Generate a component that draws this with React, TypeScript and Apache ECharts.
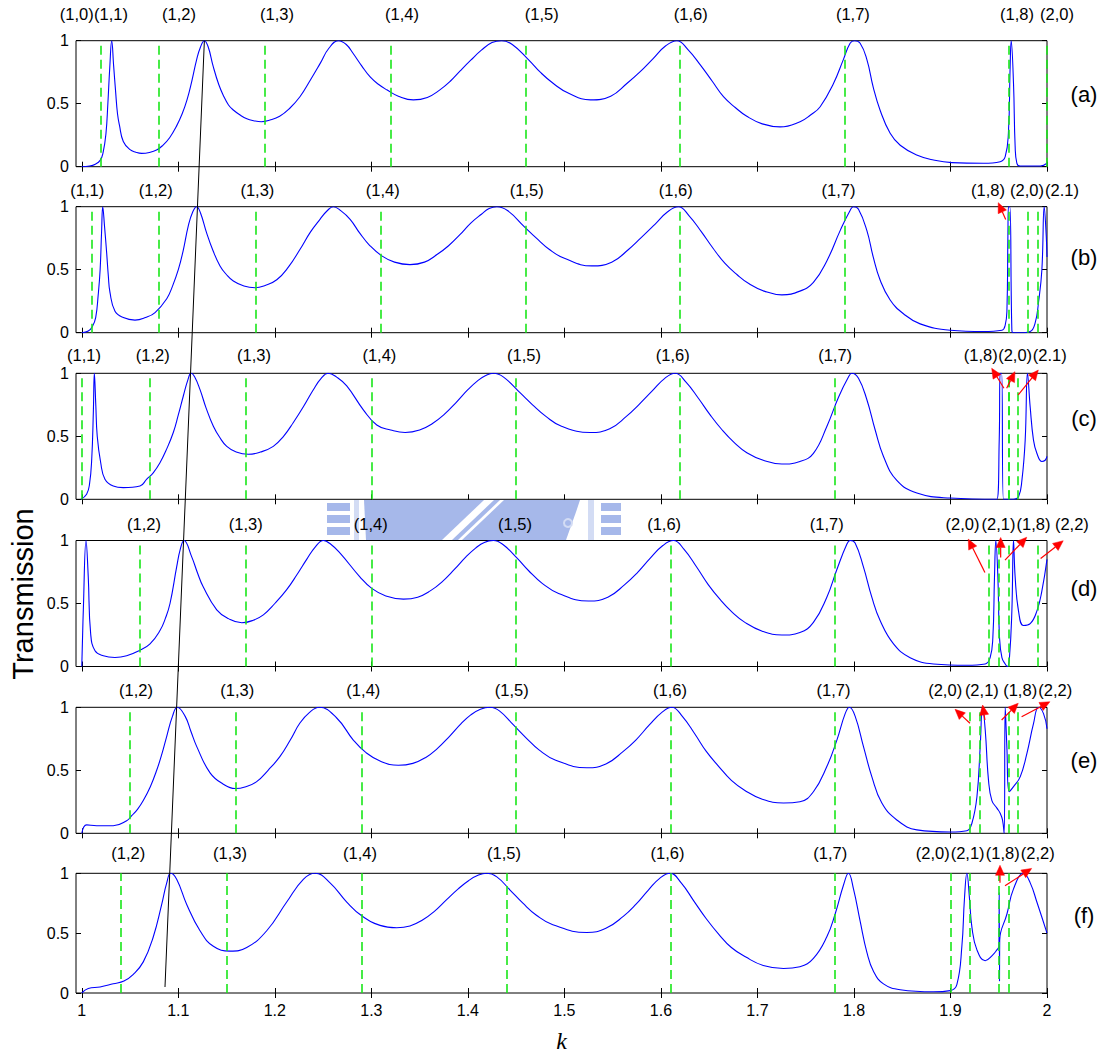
import React, { useEffect, useRef } from 'react';
import * as echarts from 'echarts';

// ---- axis ticks ----
const xTicks = [1, 1.1, 1.2, 1.3, 1.4, 1.5, 1.6, 1.7, 1.8, 1.9, 2];
const xTickLabels = ['1', '1.1', '1.2', '1.3', '1.4', '1.5', '1.6', '1.7', '1.8', '1.9', '2'];
const yTicks = [0, 0.5, 1];
const yTickLabels = ['0', '0.5', '1'];

const panelNames = ['(a)', '(b)', '(c)', '(d)', '(e)', '(f)'];

// ---- transmission curves, [k, T] ----
const curveA: number[][] = [
  [1.0, 0.0], [1.008, 0.005], [1.014, 0.02], [1.019, 0.05], [1.022, 0.11], [1.025, 0.26], [1.027, 0.5], [1.029, 0.79],
  [1.031, 1.0], [1.033, 0.8], [1.035, 0.6], [1.037, 0.42], [1.039, 0.33], [1.043, 0.2], [1.05, 0.135], [1.056, 0.115],
  [1.062, 0.106], [1.07, 0.113], [1.078, 0.135], [1.084, 0.17], [1.091, 0.23], [1.098, 0.32], [1.104, 0.42], [1.109, 0.53],
  [1.114, 0.68], [1.119, 0.85], [1.123, 0.95], [1.127, 1.0], [1.131, 0.95], [1.136, 0.8], [1.142, 0.65], [1.147, 0.56],
  [1.152, 0.49], [1.157, 0.45], [1.164, 0.41], [1.171, 0.38], [1.178, 0.365], [1.186, 0.357], [1.195, 0.37], [1.205, 0.4],
  [1.215, 0.46], [1.226, 0.555], [1.237, 0.69], [1.247, 0.82], [1.256, 0.94], [1.266, 1.0], [1.274, 0.97], [1.281, 0.9],
  [1.29, 0.8], [1.299, 0.71], [1.308, 0.65], [1.316, 0.61], [1.328, 0.56], [1.3435, 0.53], [1.358, 0.55], [1.371, 0.61],
  [1.382, 0.68], [1.392, 0.76], [1.403, 0.845], [1.414, 0.925], [1.425, 0.985], [1.435, 1.0], [1.446, 0.97], [1.4627, 0.85],
  [1.475, 0.75], [1.4886, 0.66], [1.505, 0.58], [1.527, 0.53], [1.548, 0.56], [1.5647, 0.66], [1.578, 0.75], [1.5922, 0.86],
  [1.605, 0.96], [1.6165, 1.0], [1.628, 0.93], [1.6406, 0.81], [1.653, 0.68], [1.6648, 0.556], [1.677, 0.47], [1.689, 0.4],
  [1.705, 0.34], [1.7235, 0.316], [1.7442, 0.357], [1.755, 0.41], [1.765, 0.476], [1.7788, 0.66], [1.789, 0.85], [1.796, 0.98],
  [1.8005, 1.0], [1.8064, 0.98], [1.8134, 0.85], [1.82, 0.63], [1.827, 0.45], [1.8375, 0.265], [1.8479, 0.17], [1.865, 0.093],
  [1.8824, 0.053], [1.9014, 0.032], [1.9342, 0.027], [1.9515, 0.04], [1.9567, 0.08], [1.96, 0.265], [1.9618, 0.79], [1.9629, 1.0],
  [1.9653, 0.66], [1.967, 0.16], [1.9688, 0.027], [1.9722, 0.005], [1.993, 0.005], [2.0, 0.027],
];

const curveB: number[][] = [
  [1.0, 0.0], [1.0067, 0.013], [1.011, 0.05], [1.0144, 0.12], [1.017, 0.3], [1.019, 0.5], [1.0205, 0.8], [1.0217, 1.0],
  [1.0235, 0.85], [1.0258, 0.63], [1.0275, 0.45], [1.0292, 0.32], [1.0344, 0.17], [1.043, 0.12], [1.0551, 0.1], [1.066, 0.12],
  [1.0759, 0.16], [1.088, 0.27], [1.094, 0.37], [1.1, 0.5], [1.105, 0.65], [1.1104, 0.85], [1.115, 0.96], [1.119, 1.0],
  [1.123, 0.95], [1.1294, 0.79], [1.136, 0.65], [1.1432, 0.53], [1.15, 0.46], [1.157, 0.41], [1.168, 0.37], [1.1795, 0.357],
  [1.19, 0.375], [1.202, 0.42], [1.214, 0.52], [1.226, 0.66], [1.237, 0.8], [1.2468, 0.9], [1.2545, 0.97], [1.2606, 1.0],
  [1.268, 0.97], [1.278, 0.9], [1.288, 0.79], [1.2986, 0.69], [1.3108, 0.61], [1.324, 0.56], [1.34, 0.54], [1.355, 0.56],
  [1.368, 0.62], [1.38, 0.69], [1.392, 0.78], [1.403, 0.87], [1.414, 0.94], [1.422, 0.985], [1.43, 1.0], [1.441, 0.97],
  [1.4586, 0.84], [1.471, 0.75], [1.4845, 0.66], [1.5, 0.59], [1.5284, 0.53], [1.549, 0.56], [1.5664, 0.66], [1.579, 0.75],
  [1.5938, 0.86], [1.607, 0.96], [1.6181, 1.0], [1.629, 0.93], [1.642, 0.8], [1.654, 0.67], [1.6664, 0.55], [1.679, 0.46],
  [1.691, 0.39], [1.707, 0.33], [1.7253, 0.3], [1.744, 0.33], [1.758, 0.4], [1.7719, 0.57], [1.7857, 0.81], [1.796, 0.97],
  [1.7995, 1.0], [1.8047, 0.98], [1.8134, 0.81], [1.82, 0.6], [1.827, 0.42], [1.8375, 0.26], [1.8513, 0.15], [1.8686, 0.07],
  [1.8997, 0.02], [1.9342, 0.01], [1.9533, 0.02], [1.9567, 0.06], [1.9585, 0.18], [1.9595, 0.77], [1.9601, 1.0], [1.9615, 1.0],
  [1.9636, 0.02], [1.965, 0.0], [1.9723, 0.0], [1.9826, 0.01], [1.9878, 0.08], [1.9912, 0.24], [1.9947, 0.5], [1.9971, 1.0],
  [1.9992, 0.77], [2.0, 0.6],
];

const curveC: number[][] = [
  [0.999, 0.0], [1.005, 0.04], [1.008, 0.12], [1.0103, 0.32], [1.012, 0.7], [1.013, 1.0], [1.0145, 0.75], [1.016, 0.5],
  [1.0196, 0.29], [1.024, 0.16], [1.0326, 0.106], [1.043, 0.093], [1.0603, 0.106], [1.0673, 0.16], [1.074, 0.21], [1.081, 0.29],
  [1.088, 0.4], [1.0948, 0.53], [1.1, 0.67], [1.1052, 0.82], [1.11, 0.95], [1.1132, 1.0], [1.117, 0.97], [1.1225, 0.87],
  [1.129, 0.72], [1.1363, 0.58], [1.143, 0.49], [1.1502, 0.42], [1.16, 0.375], [1.1725, 0.357], [1.185, 0.375], [1.1984, 0.42],
  [1.209, 0.5], [1.2192, 0.61], [1.23, 0.74], [1.2399, 0.87], [1.248, 0.96], [1.2554, 1.0], [1.264, 0.97], [1.2745, 0.9],
  [1.2917, 0.71], [1.3056, 0.59], [1.32, 0.55], [1.335, 0.53], [1.35, 0.55], [1.363, 0.6], [1.375, 0.67], [1.388, 0.77],
  [1.4, 0.87], [1.41, 0.94], [1.418, 0.98], [1.4265, 1.0], [1.437, 0.97], [1.4548, 0.84], [1.467, 0.75], [1.4805, 0.66],
  [1.497, 0.58], [1.5266, 0.53], [1.547, 0.56], [1.5645, 0.66], [1.577, 0.75], [1.591, 0.86], [1.604, 0.96], [1.6147, 1.0],
  [1.626, 0.93], [1.639, 0.8], [1.651, 0.67], [1.6635, 0.55], [1.676, 0.45], [1.689, 0.37], [1.706, 0.31], [1.7253, 0.28],
  [1.744, 0.3], [1.758, 0.365], [1.772, 0.58], [1.784, 0.81], [1.7943, 0.97], [1.7978, 1.0], [1.8047, 0.96], [1.8134, 0.79],
  [1.822, 0.55], [1.8306, 0.34], [1.8444, 0.15], [1.8652, 0.05], [1.8997, 0.01], [1.948, 0.0], [1.9505, 0.47], [1.9515, 1.0],
  [1.953, 1.0], [1.9549, 0.0], [1.965, 0.0], [1.9705, 0.02], [1.974, 0.15], [1.9774, 0.47], [1.9798, 1.0], [1.9826, 0.73],
  [1.986, 0.47], [1.9895, 0.365], [1.9947, 0.3], [1.9981, 0.31], [2.0, 0.34],
];

const curveD: number[][] = [
  [1.0, 0.0], [1.0016, 0.45], [1.0044, 1.0], [1.0067, 0.71], [1.0092, 0.26], [1.0137, 0.125], [1.0223, 0.085], [1.0344, 0.072],
  [1.0465, 0.085], [1.0593, 0.125], [1.0707, 0.18], [1.081, 0.285], [1.0865, 0.38], [1.0914, 0.5], [1.0983, 0.79], [1.102, 0.93],
  [1.1059, 1.0], [1.1139, 0.87], [1.12, 0.74], [1.1259, 0.63], [1.1398, 0.45], [1.152, 0.38], [1.1657, 0.347], [1.177, 0.365],
  [1.1881, 0.41], [1.2, 0.5], [1.2123, 0.61], [1.223, 0.73], [1.233, 0.85], [1.242, 0.95], [1.2503, 1.0], [1.258, 0.97],
  [1.2676, 0.9], [1.2883, 0.71], [1.3004, 0.62], [1.315, 0.56], [1.3332, 0.535], [1.348, 0.55], [1.361, 0.6], [1.373, 0.67],
  [1.386, 0.77], [1.398, 0.87], [1.408, 0.94], [1.417, 0.985], [1.4265, 1.0], [1.436, 0.97], [1.451, 0.86], [1.463, 0.76],
  [1.477, 0.66], [1.494, 0.58], [1.5249, 0.52], [1.545, 0.55], [1.5625, 0.65], [1.575, 0.74], [1.589, 0.86], [1.602, 0.96],
  [1.613, 1.0], [1.624, 0.93], [1.637, 0.79], [1.649, 0.65], [1.6615, 0.53], [1.674, 0.43], [1.687, 0.35], [1.705, 0.28],
  [1.7253, 0.25], [1.744, 0.27], [1.758, 0.35], [1.7719, 0.55], [1.7823, 0.77], [1.7926, 0.97], [1.796, 1.0], [1.8012, 0.98],
  [1.8098, 0.79], [1.8185, 0.55], [1.8271, 0.365], [1.841, 0.18], [1.8582, 0.07], [1.8824, 0.02], [1.917, 0.01], [1.936, 0.02],
  [1.9411, 0.07], [1.9439, 0.23], [1.9456, 0.71], [1.947, 1.0], [1.9491, 0.71], [1.9508, 0.23], [1.9533, 0.07], [1.9567, 0.02],
  [1.959, 0.0], [1.9611, 0.07], [1.9636, 0.44], [1.9653, 1.0], [1.967, 0.71], [1.9705, 0.44], [1.9756, 0.325], [1.9826, 0.34],
  [1.9895, 0.44], [1.9947, 0.6], [2.0, 0.85],
];

const curveE: number[][] = [
  [1.0, 0.0], [1.005, 0.067], [1.0154, 0.06], [1.0326, 0.06], [1.0465, 0.1], [1.0517, 0.14], [1.0577, 0.19], [1.0637, 0.26],
  [1.071, 0.37], [1.0776, 0.5], [1.083, 0.63], [1.088, 0.77], [1.094, 0.93], [1.099, 1.0], [1.107, 0.93], [1.113, 0.81],
  [1.119, 0.69], [1.1329, 0.48], [1.1466, 0.39], [1.1588, 0.355], [1.17, 0.37], [1.1812, 0.41], [1.193, 0.5], [1.2054, 0.61],
  [1.216, 0.74], [1.226, 0.875], [1.236, 0.96], [1.2461, 1.0], [1.2641, 0.915], [1.2813, 0.74], [1.2945, 0.64], [1.31, 0.57],
  [1.328, 0.54], [1.343, 0.555], [1.356, 0.6], [1.368, 0.67], [1.381, 0.77], [1.393, 0.87], [1.403, 0.94], [1.413, 0.985],
  [1.423, 1.0], [1.433, 0.97], [1.4472, 0.86], [1.46, 0.76], [1.474, 0.66], [1.491, 0.58], [1.5232, 0.52], [1.543, 0.55],
  [1.561, 0.65], [1.574, 0.74], [1.588, 0.86], [1.601, 0.96], [1.6113, 1.0], [1.622, 0.93], [1.635, 0.79], [1.647, 0.65],
  [1.66, 0.53], [1.673, 0.42], [1.687, 0.34], [1.705, 0.27], [1.727, 0.24], [1.744, 0.25], [1.758, 0.33], [1.7719, 0.53],
  [1.7823, 0.74], [1.7909, 0.95], [1.7953, 1.0], [1.8012, 0.93], [1.8098, 0.69], [1.8185, 0.45], [1.8289, 0.24], [1.8444, 0.106],
  [1.8652, 0.027], [1.8997, 0.01], [1.917, 0.02], [1.9222, 0.08], [1.9274, 0.29], [1.9308, 0.69], [1.9332, 1.0], [1.936, 0.82],
  [1.9394, 0.42], [1.9429, 0.26], [1.9481, 0.2], [1.9515, 0.16], [1.9539, 0.106], [1.9556, 0.0], [1.9567, 1.0], [1.9584, 0.69],
  [1.9608, 0.33], [1.9653, 0.37], [1.9723, 0.45], [1.9792, 0.635], [1.986, 0.87], [1.9912, 1.0], [1.9964, 0.95], [2.0, 0.83],
];

const curveF: number[][] = [
  [1.0, 0.0], [1.0067, 0.037], [1.0189, 0.05], [1.0326, 0.077], [1.0437, 0.1], [1.0534, 0.156], [1.0637, 0.26], [1.0741, 0.47],
  [1.0828, 0.74], [1.088, 0.92], [1.0921, 1.0], [1.0983, 0.95], [1.1087, 0.74], [1.1225, 0.52], [1.1363, 0.39], [1.1536, 0.35],
  [1.1709, 0.38], [1.1916, 0.52], [1.2123, 0.76], [1.2295, 0.95], [1.2417, 1.0], [1.2572, 0.92], [1.2745, 0.76], [1.29, 0.645],
  [1.309, 0.565], [1.3263, 0.545], [1.34, 0.56], [1.353, 0.61], [1.365, 0.68], [1.378, 0.78], [1.39, 0.87], [1.401, 0.94],
  [1.411, 0.985], [1.4196, 1.0], [1.43, 0.97], [1.4437, 0.86], [1.457, 0.75], [1.471, 0.65], [1.488, 0.57], [1.5232, 0.505],
  [1.543, 0.54], [1.561, 0.64], [1.574, 0.74], [1.587, 0.86], [1.599, 0.96], [1.6095, 1.0], [1.621, 0.92], [1.634, 0.77],
  [1.647, 0.62], [1.66, 0.49], [1.673, 0.38], [1.688, 0.3], [1.706, 0.23], [1.727, 0.205], [1.744, 0.22], [1.758, 0.29],
  [1.7719, 0.47], [1.7805, 0.66], [1.7891, 0.9], [1.7943, 1.0], [1.7995, 0.87], [1.8064, 0.6], [1.8134, 0.34], [1.8203, 0.18],
  [1.8306, 0.076], [1.8479, 0.027], [1.8824, 0.01], [1.8997, 0.02], [1.9066, 0.07], [1.9118, 0.39], [1.9145, 0.79], [1.917, 1.0],
  [1.9197, 0.79], [1.9222, 0.55], [1.9274, 0.36], [1.936, 0.27], [1.9429, 0.31], [1.9481, 0.36], [1.9502, 0.39], [1.9505, 0.84],
  [1.9508, 0.1], [1.951, 0.44], [1.9585, 0.66], [1.9653, 0.87], [1.9757, 1.0], [1.9826, 0.92], [1.9895, 0.76], [2.0, 0.5],
];

// ---- mode cut-offs (green dashed lines), k ----
const modesA = [0.9945, 1.0178, 1.0838, 1.187, 1.3156, 1.4627, 1.6223, 1.789, 1.9605, 1.9982];
const modesB = [1.0075, 1.0759, 1.1802, 1.31, 1.4586, 1.6189, 1.7865, 1.959, 1.978, 1.9906];
const modesC = [0.9981, 1.0673, 1.1733, 1.3045, 1.4548, 1.6165, 1.785, 1.9577, 1.959, 1.9712];
const modesD = [1.0593, 1.1663, 1.2997, 1.451, 1.6137, 1.7829, 1.9394, 1.9522, 1.9559, 1.9916];
const modesE = [1.0517, 1.1598, 1.2945, 1.4472, 1.6113, 1.7815, 1.9211, 1.9342, 1.9556, 1.9733];
const modesF = [1.0437, 1.1536, 1.29, 1.4437, 1.6082, 1.7798, 1.9021, 1.916, 1.9543, 1.9555];

// ---- mode names written above each panel, [k, name] ----
const namesA: [number, string][] = [
  [0.9947, '(1,0)'], [1.0303, '(1,1)'], [1.1007, '(1,2)'], [1.2023, '(1,3)'], [1.3318, '(1,4)'],
  [1.4766, '(1,5)'], [1.631, '(1,6)'], [1.7989, '(1,7)'], [1.9689, '(1,8)'], [2.0104, '(2,0)'],
];
const namesB: [number, string][] = [
  [1.0057, '(1,1)'], [1.0766, '(1,2)'], [1.1819, '(1,3)'], [1.3118, '(1,4)'], [1.461, '(1,5)'],
  [1.6154, '(1,6)'], [1.784, '(1,7)'], [1.9388, '(1,8)'], [1.9792, '(2,0)'], [2.0155, '(2.1)'],
];
const namesC: [number, string][] = [
  [1.0023, '(1,1)'], [1.0735, '(1,2)'], [1.1784, '(1,3)'], [1.3083, '(1,4)'], [1.4582, '(1,5)'],
  [1.6123, '(1,6)'], [1.7805, '(1,7)'], [1.9313, '(1,8)'], [1.967, '(2,0)'], [2.0028, '(2.1)'],
];
const namesD: [number, string][] = [
  [1.0645, '(1,2)'], [1.1698, '(1,3)'], [1.2994, '(1,4)'], [1.4489, '(1,5)'], [1.6033, '(1,6)'],
  [1.7719, '(1,7)'], [1.9124, '(2,0)'], [1.9497, '(2,1)'], [1.986, '(1,8)'], [2.0258, '(2,2)'],
];
const namesE: [number, string][] = [
  [1.0562, '(1,2)'], [1.1611, '(1,3)'], [1.2917, '(1,4)'], [1.4455, '(1,5)'], [1.6095, '(1,6)'],
  [1.7788, '(1,7)'], [1.8945, '(2,0)'], [1.9325, '(2,1)'], [1.9722, '(1,8)'], [2.0085, '(2,2)'],
];
const namesF: [number, string][] = [
  [1.0482, '(1,2)'], [1.1536, '(1,3)'], [1.2883, '(1,4)'], [1.4375, '(1,5)'], [1.6068, '(1,6)'],
  [1.7754, '(1,7)'], [1.8816, '(2,0)'], [1.9178, '(2,1)'], [1.9541, '(1,8)'], [1.9904, '(2,2)'],
];

// ---- red pointers from a resonance to its name, [k0, T0, k1, T1] ----
const pointersA: number[][] = [];
const pointersB: number[][] = [[1.9572, 0.899, 1.9495, 1.032]];
const pointersC: number[][] = [
  [1.9554, 0.881, 1.9427, 1.04], [1.9582, 0.881, 1.9668, 1.013], [1.9702, 0.828, 1.991, 1.026],
];
const pointersD: number[][] = [
  [1.9357, 0.746, 1.9184, 1.011], [1.952, 0.865, 1.952, 1.024], [1.9565, 0.844, 1.979, 1.026], [1.9934, 0.857, 2.0168, 0.998],
];
const pointersE: number[][] = [
  [1.9202, 0.873, 1.9047, 0.984], [1.9357, 0.899, 1.9333, 1.018], [1.953, 0.899, 1.9702, 1.032], [1.9737, 0.925, 2.003, 1.044],
];
const pointersF: number[][] = [[1.9513, 0.922, 1.9513, 1.067], [1.9565, 0.895, 1.9841, 1.041]];

// (1,2) peak drift: from panel (a) down to panel (f), [k, T]
const driftStart = [1.127, 1.0];
const driftEnd = [1.0862, 0.05];

// level (in T units) of each panel's letter
const panelLetterLevel = [0.57, 0.6, 0.645, 0.617, 0.58, 0.647];

const curves = [curveA, curveB, curveC, curveD, curveE, curveF];
const modes = [modesA, modesB, modesC, modesD, modesE, modesF];
const names = [namesA, namesB, namesC, namesD, namesE, namesF];
const pointers = [pointersA, pointersB, pointersC, pointersD, pointersE, pointersF];

// ---- layout ----
const FONT = '"Liberation Sans", Arial, Helvetica, sans-serif';
const GRID_LEFT = 76;
const GRID_W = 971;
const GRID_H = 126;
const GRID_TOPS = [40.7, 206.7, 373.3, 540.5, 707.3, 873.3];
const NAME_GAPS = [27, 17, 18, 17, 17, 20];
const X_MIN = 0.994;
const X_MAX = 2;

const BLUE = '#0000ff';
const GREEN = '#19e619';
const RED = '#ff0000';
const EMBLEM = '#a6b8ea';
const EMBLEM_LIGHT = '#d3dcf4';

function xLabel(v: number): string {
  const i = xTicks.findIndex((t) => Math.abs(t - v) < 1e-6);
  return i >= 0 ? xTickLabels[i] : '';
}
function yLabel(v: number): string {
  const i = yTicks.findIndex((t) => Math.abs(t - v) < 1e-6);
  return i >= 0 ? yTickLabels[i] : '';
}

// faint university emblem peeking through the gap between panels (c) and (d)
function emblem(): any[] {
  const rect = (x: number, y: number, w: number, h: number, fill = EMBLEM) => ({
    type: 'rect', z: 1, shape: { x, y, width: w, height: h }, style: { fill },
  });
  const combRows = [503, 515, 527];
  const out: any[] = [];
  combRows.forEach((y) => out.push(rect(327, y, 23, 8)));
  out.push(rect(354, 500, 5, 40, EMBLEM_LIGHT));
  out.push({
    type: 'polygon', z: 1,
    shape: { points: [[364, 500], [580, 500], [576, 512], [566, 540], [366, 540]] },
    style: { fill: EMBLEM },
  });
  out.push({
    type: 'polygon', z: 1,
    shape: { points: [[484, 500], [494, 500], [452, 540], [442, 540]] },
    style: { fill: '#ffffff' },
  });
  out.push({
    type: 'polygon', z: 1,
    shape: { points: [[500, 500], [504, 500], [462, 540], [458, 540]] },
    style: { fill: '#ffffff' },
  });
  out.push({ type: 'circle', z: 1, shape: { cx: 568, cy: 523, r: 4 }, style: { fill: 'none', stroke: EMBLEM_LIGHT, lineWidth: 2 } });
  out.push(rect(588, 500, 6, 40, EMBLEM_LIGHT));
  combRows.forEach((y) => out.push(rect(601, y, 20, 8)));
  return out;
}

export default function App() {
  const ref = useRef<HTMLDivElement>(null);

  useEffect(() => {
    if (!ref.current) return;
    const chart = echarts.init(ref.current, null, { renderer: 'svg' });

    const grid: any[] = [];
    const xAxis: any[] = [];
    const yAxis: any[] = [];
    const series: any[] = [];
    const n = curves.length;

    curves.forEach((curve, i) => {
      const last = i === n - 1;
      grid.push({
        left: GRID_LEFT, top: GRID_TOPS[i], width: GRID_W, height: GRID_H,
        show: true, borderColor: '#000', borderWidth: 1, backgroundColor: 'transparent',
      });
      const tick = { show: true, inside: true, length: 5, customValues: xTicks, lineStyle: { color: '#000', width: 1 } };
      xAxis.push({
        type: 'value', gridIndex: i, position: 'bottom', min: X_MIN, max: X_MAX,
        axisLine: { show: false }, splitLine: { show: false }, axisTick: tick,
        axisLabel: {
          show: last, customValues: xTicks, formatter: xLabel, margin: 9,
          color: '#000', fontSize: 16, fontFamily: FONT,
        },
        name: last ? 'k' : '', nameLocation: 'middle', nameGap: 36,
        nameTextStyle: { fontFamily: '"Liberation Serif", "Times New Roman", serif', fontStyle: 'italic', fontSize: 24, color: '#000' },
      });
      xAxis.push({
        type: 'value', gridIndex: i, position: 'top', min: X_MIN, max: X_MAX,
        axisLine: { show: false }, splitLine: { show: false }, axisTick: tick, axisLabel: { show: false },
      });
      const ytick = { show: true, inside: true, length: 5, customValues: yTicks, lineStyle: { color: '#000', width: 1 } };
      yAxis.push({
        type: 'value', gridIndex: i, position: 'left', min: 0, max: 1,
        axisLine: { show: false }, splitLine: { show: false }, axisTick: ytick,
        axisLabel: { customValues: yTicks, formatter: yLabel, margin: 7, color: '#000', fontSize: 16, fontFamily: FONT },
      });
      yAxis.push({
        type: 'value', gridIndex: i, position: 'right', min: 0, max: 1,
        axisLine: { show: false }, splitLine: { show: false }, axisTick: ytick, axisLabel: { show: false },
      });
      series.push({
        type: 'line', xAxisIndex: 2 * i, yAxisIndex: 2 * i, data: curve,
        showSymbol: false, smooth: 0.45, clip: true,
        lineStyle: { color: BLUE, width: 1.1 }, z: 3,
        markLine: {
          silent: true, symbol: ['none', 'none'], label: { show: false },
          lineStyle: { color: GREEN, type: [9, 5], width: 1.6 },
          emphasis: { disabled: true },
          data: modes[i].map((k) => ({ xAxis: k })),
        },
      });
    });

    chart.setOption({ animation: false, backgroundColor: '#fff', grid, xAxis, yAxis, series });

    const toPx = (i: number, k: number, t: number): number[] =>
      chart.convertToPixel({ xAxisIndex: 2 * i, yAxisIndex: 2 * i }, [k, t]) as number[];

    const elements: any[] = emblem();
    const textStyle = (text: string, font: string) => ({
      text, font, fill: '#000', align: 'center', verticalAlign: 'middle',
      textAlign: 'center', textVerticalAlign: 'middle',
    });

    names.forEach((list, i) => {
      list.forEach(([k, label]) => {
        const p = toPx(i, k, 1);
        elements.push({ type: 'text', x: p[0], y: GRID_TOPS[i] - NAME_GAPS[i], z: 10, style: textStyle(label, `16.5px ${FONT}`) });
      });
      const q = toPx(i, X_MAX, panelLetterLevel[i]);
      elements.push({ type: 'text', x: q[0] + 37, y: q[1], z: 10, style: textStyle(panelNames[i], `22px ${FONT}`) });
    });

    pointers.forEach((list, i) => {
      list.forEach(([k0, t0, k1, t1]) => {
        const a = toPx(i, k0, t0);
        const b = toPx(i, k1, t1);
        const dx = b[0] - a[0];
        const dy = b[1] - a[1];
        const len = Math.hypot(dx, dy) || 1;
        const ux = dx / len;
        const uy = dy / len;
        const head = 10;
        const half = 4.5;
        const bx = b[0] - ux * head;
        const by = b[1] - uy * head;
        elements.push({
          type: 'line', z: 20,
          shape: { x1: a[0], y1: a[1], x2: bx, y2: by },
          style: { stroke: RED, lineWidth: 1.2 },
        });
        elements.push({
          type: 'polygon', z: 20,
          shape: { points: [[b[0], b[1]], [bx - uy * half, by + ux * half], [bx + uy * half, by - ux * half]] },
          style: { fill: RED, stroke: RED, lineWidth: 0.5 },
        });
      });
    });

    const s = toPx(0, driftStart[0], driftStart[1]);
    const e = toPx(n - 1, driftEnd[0], driftEnd[1]);
    elements.push({ type: 'line', z: 15, shape: { x1: s[0], y1: s[1], x2: e[0], y2: e[1] }, style: { stroke: '#000', lineWidth: 1 } });

    elements.push({
      type: 'text', x: 23, y: 594, rotation: Math.PI / 2, z: 10,
      style: textStyle('Transmission', `29px ${FONT}`),
    });

    chart.setOption({ graphic: { elements } });

    return () => chart.dispose();
  }, []);

  return (
    <div
      ref={ref}
      style={{ position: 'absolute', left: 0, top: 0, width: 1114, height: 1054, background: '#fff' }}
    />
  );
}
